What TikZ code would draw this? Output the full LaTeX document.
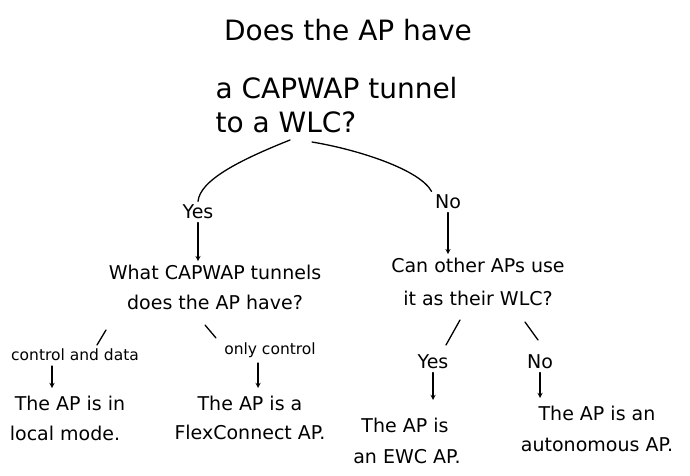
\documentclass[tikz,border=0pt]{standalone}
\usepackage{fontspec}
\setmainfont{DejaVu Sans}
\begin{document}
\begin{tikzpicture}[x=1pt,y=-1pt,
  big/.style={font=\fontsize{28}{30}\selectfont},
  mid/.style={font=\fontsize{19}{21}\selectfont},
  sm/.style={font=\fontsize{15.5}{17}\selectfont},
  ln/.style={line width=1.3pt,line cap=round},
  ar/.style={ln,->,>=stealth}]
\useasboundingbox[fill=white] (0,0) rectangle (690,476);
\node[big] (t1) at (348,30) {Does the AP have};
\node[big,anchor=west] (t2) at (212,88) {a CAPWAP tunnel};
\node[big,anchor=west] (t3) at (212,122) {to a WLC?};
\coordinate (c1) at (290,140);
\coordinate (c2) at (312,142);
\node[mid] (yes) at (198,212) {Yes};
\node[mid] (no) at (448,202) {No};
\draw[ln] (c1) .. controls (240,160) and (200,180) .. (yes.north);
\draw[ln] (c2) .. controls (360,150) and (420,170) .. (no.north west);
\node[mid] (q1a) at (215,272) {What CAPWAP tunnels};
\node[mid] (q1b) at (215,302) {does the AP have?};
\node[mid] (q2a) at (478,265) {Can other APs use};
\node[mid] (q2b) at (478,298) {it as their WLC?};
\draw[ar] (yes.south) -- (q1a.north -| yes.south);
\draw[ar] (no.south) -- (q2a.north -| no.south);
\node[sm] (cd) at (75,355) {control and data};
\node[sm] (oc) at (270,350) {only control};
\draw[ln] (106,330) -- (97,345);
\draw[ln] (205,325) -- (216,338);
\node[mid] (l1) at (70,403) {The AP is in};
\node[mid] (l2) at (65,433) {local mode.};
\node[mid] (f1) at (250,403) {The AP is a};
\node[mid] (f2) at (250,432) {FlexConnect AP.};
\draw[ar] (52,366) -- (52,388);
\draw[ar] (258,363) -- (258,388);
\draw[ln] (460,320) -- (446,345);
\draw[ln] (525,322) -- (538,340);
\node[mid] (y2) at (433,362) {Yes};
\node[mid] (n2) at (540,362) {No};
\node[mid] (e1) at (405,425) {The AP is};
\node[mid] (e2) at (407,457) {an EWC AP.};
\node[mid] (a1) at (597,413) {The AP is an};
\node[mid] (a2) at (597,445) {autonomous AP.};
\draw[ar] (y2.south) -- (433,400);
\draw[ar] (n2.south) -- (540,398);
\end{tikzpicture}
\end{document}
